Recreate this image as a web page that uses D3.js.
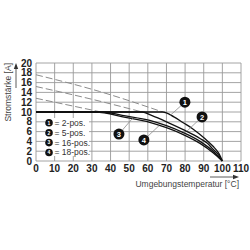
<!DOCTYPE html>
<html>
<head>
<meta charset="utf-8">
<script src="https://cdn.jsdelivr.net/npm/d3@7"></script>
<style>
  body { margin: 0; background: #fff; }
  svg { display: block; font-family: "Liberation Sans", Arial, sans-serif; }
</style>
</head>
<body>
<div id="chart"></div>
<script>
// ---- data ----
var xTicks = [0, 10, 20, 30, 40, 50, 60, 70, 80, 90, 100, 110];
var yTicks = [0, 2, 4, 6, 8, 10, 12, 14, 16, 18, 20];

var legendNames = ["2-pos.", "5-pos.", "16-pos.", "18-pos."];

// derating curves [temperature, current]
var curve1 = [[0, 10], [68, 10], [74, 9.0], [79, 7.8], [84, 6.6], [88, 5.4], [92, 4.1], [95, 3.0], [98, 1.6], [100, 0]];
var curve2 = [[0, 10], [57, 10], [62, 9.3], [70, 8.0], [79, 6.4], [88, 4.6], [92, 3.6], [95, 2.4], [98, 1.2], [100, 0]];
var curve3 = [[0, 10], [35, 10], [48, 9.2], [61, 8.3], [70, 7.2], [79, 5.8], [88, 4.0], [95, 2.0], [100, 0]];
var curve4 = [[0, 10], [32, 10], [48, 8.9], [61, 7.9], [70, 6.8], [79, 5.4], [88, 3.6], [95, 1.7], [100, 0]];

// dashed extensions above 10 A
var dashed1 = [[0, 17.6], [34, 14.2], [68, 10]];
var dashed2 = [[0, 15.2], [30, 12.6], [57, 10]];
var dashed3 = [[0, 12.8], [35, 10]];

// curve markers: [label, marker temp, marker current, leader end temp, leader end current]
var markers = [
    ["1", 79.9, 12.0, 72, 9.3],
    ["2", 89.1, 9.0, 81, 6.1],
    ["3", 44.5, 5.5, 52, 8.8],
    ["4", 57.9, 4.3, 66, 7.2]
];

var width = 250, height = 250;

var svg = d3.select("#chart").append("svg")
    .attr("width", width)
    .attr("height", height);

var x = d3.scaleLinear().domain([0, 110]).range([36, 241]);
var y = d3.scaleLinear().domain([0, 20]).range([161, 63]);

// grid
svg.append("g").selectAll("line")
    .data(xTicks)
    .enter().append("line")
    .attr("x1", d => x(d)).attr("x2", d => x(d))
    .attr("y1", y(0)).attr("y2", y(20))
    .attr("stroke", "#9a9a9a")
    .attr("stroke-width", 0.9);

svg.append("g").selectAll("line")
    .data(yTicks)
    .enter().append("line")
    .attr("x1", x(0)).attr("x2", x(110))
    .attr("y1", d => y(d)).attr("y2", d => y(d))
    .attr("stroke", "#9a9a9a")
    .attr("stroke-width", 0.9);

// tick labels
svg.append("g").selectAll("text")
    .data(yTicks)
    .enter().append("text")
    .attr("x", 32)
    .attr("y", d => y(d) + 3.5)
    .attr("text-anchor", "end")
    .attr("font-size", 10)
    .attr("font-weight", "bold")
    .attr("fill", "#222")
    .text(d => d);

svg.append("g").selectAll("text")
    .data(xTicks)
    .enter().append("text")
    .attr("x", d => x(d))
    .attr("y", 172)
    .attr("text-anchor", "middle")
    .attr("font-size", 10)
    .attr("font-weight", "bold")
    .attr("fill", "#222")
    .text(d => d);

// axis titles with arrows
svg.append("text")
    .attr("transform", "translate(11,63) rotate(-90)")
    .attr("text-anchor", "end")
    .attr("font-size", 8.5)
    .attr("fill", "#444")
    .text("Stromstärke [A]");

svg.append("line")
    .attr("x1", 16).attr("x2", 16)
    .attr("y1", 88).attr("y2", 67)
    .attr("stroke", "#333").attr("stroke-width", 0.8);
svg.append("path")
    .attr("d", "M16,63L13.8,69L18.2,69Z")
    .attr("fill", "#333");

svg.append("text")
    .attr("x", 239)
    .attr("y", 187)
    .attr("text-anchor", "end")
    .attr("font-size", 8.5)
    .attr("fill", "#444")
    .text("Umgebungstemperatur [°C]");

svg.append("line")
    .attr("x1", 210).attr("x2", 234)
    .attr("y1", 177).attr("y2", 177)
    .attr("stroke", "#333").attr("stroke-width", 0.8);
svg.append("path")
    .attr("d", "M239,177L233,174.8L233,179.2Z")
    .attr("fill", "#333");

var line = d3.line()
    .x(d => x(d[0]))
    .y(d => y(d[1]))
    .curve(d3.curveMonotoneX);

// dashed extensions
[dashed1, dashed2, dashed3].forEach(function(s) {
    svg.append("path")
        .datum(s)
        .attr("d", line)
        .attr("fill", "none")
        .attr("stroke", "#8c8c8c")
        .attr("stroke-width", 1)
        .attr("stroke-dasharray", "7,3");
});

// solid curves
[curve1, curve2, curve3, curve4].forEach(function(s) {
    svg.append("path")
        .datum(s)
        .attr("d", line)
        .attr("fill", "none")
        .attr("stroke", "#111")
        .attr("stroke-width", 1.3);
});

// leaders + markers
var mk = svg.append("g").selectAll("g")
    .data(markers)
    .enter().append("g");

mk.append("line")
    .attr("x1", d => x(d[1])).attr("y1", d => y(d[2]))
    .attr("x2", d => x(d[3])).attr("y2", d => y(d[4]))
    .attr("stroke", "#8c8c8c")
    .attr("stroke-width", 0.8);

mk.append("circle")
    .attr("cx", d => x(d[1])).attr("cy", d => y(d[2]))
    .attr("r", 5.5)
    .attr("fill", "#111");

mk.append("text")
    .attr("x", d => x(d[1])).attr("y", d => y(d[2]) + 2.6)
    .attr("text-anchor", "middle")
    .attr("font-size", 7.5)
    .attr("font-weight", "bold")
    .attr("fill", "#fff")
    .text(d => d[0]);

// legend
var legend = svg.append("g");
legend.append("rect")
    .attr("x", 45).attr("y", 118)
    .attr("width", 44).attr("height", 38)
    .attr("fill", "#fff");

var rows = legend.selectAll("g")
    .data(legendNames)
    .enter().append("g")
    .attr("transform", (d, i) => "translate(49," + (y(7.8) + i * y(18) - i * y(20) + 0.1 * i) + ")");

rows.append("circle")
    .attr("r", 3.8)
    .attr("fill", "#111");

rows.append("text")
    .attr("y", 1.9)
    .attr("text-anchor", "middle")
    .attr("font-size", 5)
    .attr("font-weight", "bold")
    .attr("fill", "#fff")
    .text((d, i) => i + 1);

rows.append("text")
    .attr("x", 5.5)
    .attr("y", 3)
    .attr("font-size", 8.5)
    .attr("fill", "#333")
    .text(d => "= " + d);
</script>
</body>
</html>
